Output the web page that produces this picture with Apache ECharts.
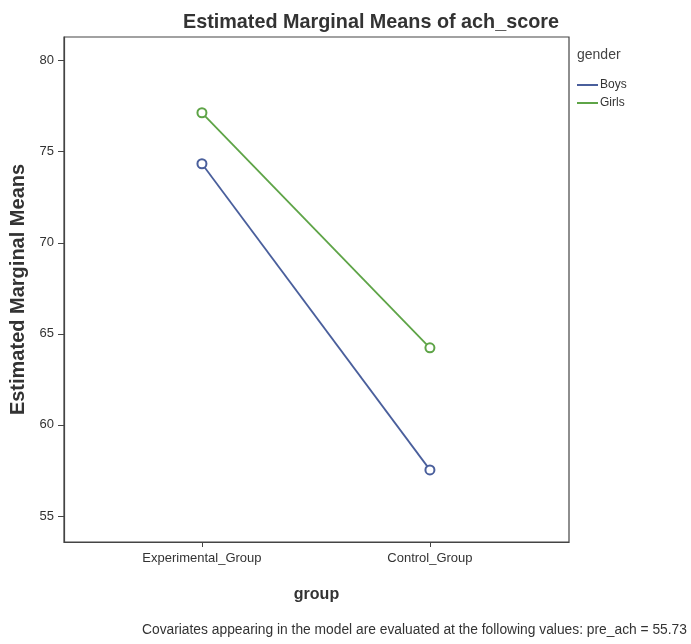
<!DOCTYPE html>
<html>
<head>
<meta charset="utf-8">
<script src="https://cdn.jsdelivr.net/npm/echarts@6/dist/echarts.min.js"></script>
<style>html,body{margin:0;padding:0;background:#fff}#c{width:691px;height:644px}</style>
</head>
<body>
<div id="c"></div>
<script>
const categories = ['Experimental_Group', 'Control_Group'];
const seriesNames = ['Boys', 'Girls'];
const boys = [74.34, 57.53];
const girls = [77.14, 64.23];
const yTicks = [55, 60, 65, 70, 75, 80];
const titleText = 'Estimated Marginal Means of ach_score';
const footnote = 'Covariates appearing in the model are evaluated at the following values: pre_ach = 55.73';

const colors = ['#4a5f9c', '#5ea447'];
const font = 'Liberation Sans, Arial, sans-serif';
const chart = echarts.init(document.getElementById('c'));
function toPts(arr){ return arr.map((v,i)=>[i,v]); }
const valuesBySeries = [boys, girls];

chart.setOption({
  animation: false,
  backgroundColor: '#fff',
  title: {
    text: titleText, left: 178, top: 8,
    textStyle: {fontFamily: font, fontWeight: 'bold', fontSize: 19.8, color: '#333'}
  },
  grid: {left: 64, right: 122, top: 37, bottom: 102, show: true, borderColor: '#444', borderWidth: 1.2},
  legend: {
    orient: 'vertical', left: 572, top: 74, itemGap: 6,
    icon: 'rect', itemWidth: 21, itemHeight: 2,
    textStyle: {fontFamily: font, fontSize: 12, color: '#333', padding: [0,0,0,-3]},
    data: seriesNames
  },
  xAxis: {
    type: 'value', min: -0.605, max: 1.61,
    name: 'group', nameLocation: 'middle', nameGap: 45,
    nameTextStyle: {fontFamily: font, fontWeight: 'bold', fontSize: 16, color: '#333'},
    axisLine: {show: true, onZero: false, lineStyle: {color: '#444', width: 1.2}},
    axisTick: {show: true, customValues: [0,1], length: 5, lineStyle: {color: '#444'}},
    axisLabel: {customValues: [0,1], formatter: v => categories[Math.round(v)], fontFamily: font, fontSize: 13, color: '#333', margin: 10},
    splitLine: {show: false}
  },
  yAxis: {
    type: 'value', min: 53.57, max: 81.3,
    name: 'Estimated Marginal Means', nameLocation: 'middle', nameGap: 33,
    nameTextStyle: {fontFamily: font, fontWeight: 'bold', fontSize: 20, color: '#333'},
    axisLine: {show: true, onZero: false, lineStyle: {color: '#444', width: 1.2}},
    axisTick: {show: true, customValues: yTicks, length: 6, lineStyle: {color: '#444'}},
    axisLabel: {customValues: yTicks, fontFamily: font, fontSize: 13, color: '#333', margin: 10},
    splitLine: {show: false}
  },
  series: seriesNames.map((n, i) => ({
    name: n, type: 'line', data: toPts(valuesBySeries[i]),
    symbol: 'emptyCircle', symbolSize: 9,
    lineStyle: {color: colors[i], width: 1.8},
    itemStyle: {color: colors[i], borderWidth: 1.8}
  })),
  graphic: [
    {type: 'text', left: 577, top: 48, style: {text: 'gender', fontFamily: font, fontSize: 14, fill: '#444'}},
    {type: 'text', left: 142, top: 623, style: {text: footnote, fontFamily: font, fontSize: 13.8, fill: '#333'}}
  ]
});
</script>
</body>
</html>
